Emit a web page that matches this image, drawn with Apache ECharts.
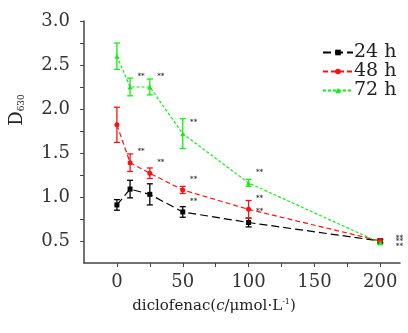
<!DOCTYPE html>
<html><head><meta charset="utf-8">
<script src="https://cdn.jsdelivr.net/npm/echarts@6/dist/echarts.min.js"></script>
<style>html,body{margin:0;padding:0;background:#fff}#c{width:408px;height:333px}</style>
</head><body><div id="c"></div>
<script>
var doses = [0, 10, 25, 50, 100, 200];
var d24 = [0.91, 1.09, 1.03, 0.83, 0.71, 0.50];
var e24 = [0.06, 0.10, 0.12, 0.06, 0.05, 0.02];
var d48 = [1.82, 1.39, 1.27, 1.08, 0.86, 0.50];
var e48 = [0.20, 0.10, 0.06, 0.04, 0.10, 0.02];
var d72 = [2.60, 2.25, 2.25, 1.72, 1.16, 0.48];
var e72 = [0.15, 0.10, 0.09, 0.17, 0.04, 0.02];
var sig24 = ['', '', '', '**', '**', '**'];
var sig48 = ['', '**', '**', '**', '**', '**'];
var sig72 = ['', '**', '**', '**', '**', '**'];
var xLabels = [0, 50, 100, 150, 200];
var xTicks = [0, 25, 50, 75, 100, 125, 150, 175, 200];
var yLabels = [0.5, 1.0, 1.5, 2.0, 2.5, 3.0];
var yTicks = [0.5, 0.75, 1.0, 1.25, 1.5, 1.75, 2.0, 2.25, 2.5, 2.75, 3.0];

var serif = 'DejaVu Serif';
var names = ['24 h', '48 h', '72 h'];
var colors = ['#000000', '#ff1010', '#11ee11'];
var dashes = [[8, 4], [5, 3], [3, 2]];
var symbols = ['rect', 'circle', 'triangle'];
var vals = [d24, d48, d72];
var errs = [e24, e48, e72];
var sigs = [sig24, sig48, sig72];
var lastOff = [[8, 5], [8, 0], [8, -5]];

var series = [];
names.forEach(function (n, k) {
  series.push({
    name: n, type: 'line',
    data: doses.map(function (x, i) {
      return {
        value: [x, vals[k][i]],
        label: {
          show: sigs[k][i] !== '',
          formatter: sigs[k][i],
          position: i === 5 ? 'right' : 'top',
          offset: i === 5 ? lastOff[k] : [11, 0],
          fontSize: 7, fontWeight: 'bold', color: '#222', fontFamily: serif
        }
      };
    }),
    symbol: symbols[k], symbolSize: 5,
    itemStyle: { color: colors[k] },
    lineStyle: { color: colors[k], width: 1.2, type: dashes[k] },
    z: 3
  });
  series.push({
    name: n, type: 'custom',
    data: doses.map(function (x, i) { return [x, vals[k][i], errs[k][i]]; }),
    renderItem: function (params, api) {
      var x = api.value(0), y = api.value(1), e = api.value(2);
      var top = api.coord([x, y + e]);
      var bot = api.coord([x, y - e]);
      var w = 3;
      var st = { stroke: colors[k], lineWidth: 1.3 };
      return {
        type: 'group',
        children: [
          { type: 'line', shape: { x1: top[0], y1: top[1], x2: bot[0], y2: bot[1] }, style: st },
          { type: 'line', shape: { x1: top[0] - w, y1: top[1], x2: top[0] + w, y2: top[1] }, style: st },
          { type: 'line', shape: { x1: bot[0] - w, y1: bot[1], x2: bot[0] + w, y2: bot[1] }, style: st }
        ]
      };
    },
    z: 2
  });
});

var chart = echarts.init(document.getElementById('c'));
chart.setOption({
  animation: false,
  backgroundColor: '#fff',
  grid: { left: 83, right: 8, top: 21, bottom: 70 },
  legend: {
    data: names,
    orient: 'vertical', left: 317, top: 38,
    itemWidth: 30, itemHeight: 7, itemGap: 0,
    textStyle: { fontFamily: serif, fontSize: 19, color: '#222', padding: [0, 0, 0, -4], lineHeight: 14 }
  },
  xAxis: {
    type: 'value', min: -25, max: 215,
    name: '{a|diclofenac(}{i|c}{a|/μmol·L}{s|-1}{a|)}',
    nameLocation: 'middle', nameGap: 35,
    nameTextStyle: {
      padding: [0, 56, 0, 0],
      rich: {
        a: { fontFamily: serif, fontSize: 15, color: '#222' },
        i: { fontFamily: serif, fontSize: 15, color: '#222', fontStyle: 'italic' },
        s: { fontFamily: serif, fontSize: 8, color: '#222', verticalAlign: 'top', padding: [0, 0, 8, 0] }
      }
    },
    axisLine: { lineStyle: { color: '#444', width: 1.5 } },
    axisTick: { customValues: xTicks, length: 4, lineStyle: { color: '#444' } },
    axisLabel: { customValues: xLabels, fontFamily: serif, fontSize: 18, color: '#333', margin: 10 },
    splitLine: { show: false }
  },
  yAxis: {
    type: 'value', min: 0.25, max: 3.0,
    name: '{d|D}{s|630}',
    nameLocation: 'middle', nameGap: 58, nameRotate: 90,
    nameTextStyle: {
      padding: [0, 0, 0, 64],
      rich: {
        d: { fontFamily: serif, fontSize: 18, color: '#222' },
        s: { fontFamily: serif, fontSize: 9, color: '#222', verticalAlign: 'bottom', padding: [6, 0, 0, 0] }
      }
    },
    axisLine: { show: true, onZero: false, lineStyle: { color: '#444', width: 1.5 } },
    axisTick: { show: true, customValues: yTicks, length: 4, lineStyle: { color: '#444' } },
    axisLabel: { customValues: yLabels, fontFamily: serif, fontSize: 18, color: '#333', margin: 14,
      formatter: function (v) { return v.toFixed(1); } },
    splitLine: { show: false }
  },
  series: series
});
</script></body></html>
